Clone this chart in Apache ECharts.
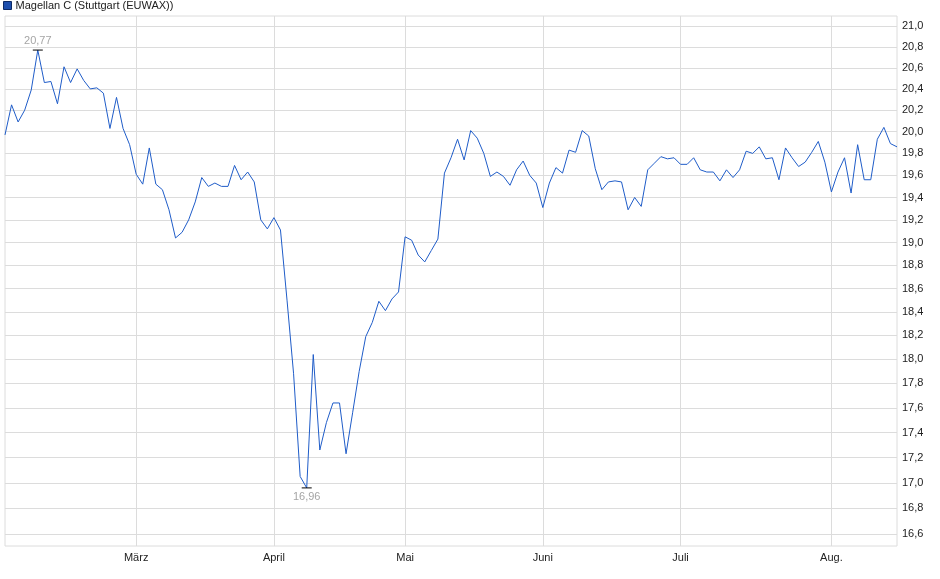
<!DOCTYPE html>
<html>
<head>
<meta charset="utf-8">
<script src="https://cdn.jsdelivr.net/npm/echarts@6/dist/echarts.min.js"></script>
<style>
  html, body { margin: 0; padding: 0; background: #fff; }
  #chart { width: 940px; height: 579px; }
</style>
</head>
<body>
<div id="chart"></div>
<script>
// Kursverlauf Magellan C, Handelstage 03.02.2025 - 15.08.2025
var seriesName = 'Magellan C (Stuttgart (EUWAX))';
var startDate = '2025-02-03';
var holidays = ['2025-04-18', '2025-04-21', '2025-05-01'];
var monthNames = ['Jan.', 'Feb.', 'März', 'April', 'Mai', 'Juni', 'Juli', 'Aug.', 'Sep.', 'Okt.', 'Nov.', 'Dez.'];
var yTicks = [16.6, 16.8, 17.0, 17.2, 17.4, 17.6, 17.8, 18.0, 18.2, 18.4, 18.6, 18.8,
    19.0, 19.2, 19.4, 19.6, 19.8, 20.0, 20.2, 20.4, 20.6, 20.8, 21.0];

// Februar
var pricesFeb = [19.97, 20.25, 20.09, 20.20, 20.39, 20.77, 20.46, 20.47, 20.26, 20.61,
    20.46, 20.59, 20.48, 20.40, 20.41, 20.36, 20.03, 20.32, 20.03, 19.88];
// März
var pricesMar = [19.61, 19.52, 19.85, 19.52, 19.47, 19.29, 19.04, 19.09, 19.20, 19.36,
    19.58, 19.50, 19.53, 19.50, 19.50, 19.69, 19.56, 19.63, 19.54, 19.20, 19.12];
// April
var pricesApr = [19.22, 19.11, 18.50, 17.88, 17.05, 16.96, 18.04, 17.26, 17.48, 17.64,
    17.64, 17.23, 17.56, 17.90, 18.19, 18.31, 18.49, 18.41, 18.51, 18.57];
// Mai
var pricesMay = [19.05, 19.02, 18.89, 18.83, 18.93, 19.03, 19.62, 19.76, 19.93, 19.74,
    20.01, 19.94, 19.80, 19.59, 19.63, 19.59, 19.51, 19.65, 19.73, 19.60, 19.53];
// Juni
var pricesJun = [19.31, 19.53, 19.67, 19.62, 19.83, 19.81, 20.01, 19.96, 19.66, 19.47,
    19.54, 19.55, 19.54, 19.29, 19.40, 19.32, 19.65, 19.71, 19.77, 19.75, 19.76];
// Juli
var pricesJul = [19.70, 19.70, 19.76, 19.65, 19.63, 19.63, 19.55, 19.65, 19.58, 19.65,
    19.82, 19.80, 19.86, 19.75, 19.76, 19.56, 19.85, 19.76, 19.68, 19.72, 19.81, 19.91, 19.72];
// August
var pricesAug = [19.45, 19.63, 19.76, 19.44, 19.88, 19.56, 19.56, 19.93, 20.04, 19.89, 19.86];

var prices = [].concat(pricesFeb, pricesMar, pricesApr, pricesMay, pricesJun, pricesJul, pricesAug);

// Handelstage erzeugen (Mo-Fr ohne Feiertage)
var dates = [];
var d = new Date(startDate + 'T12:00:00Z');
while (dates.length < prices.length) {
    var wd = d.getUTCDay();
    var s = d.toISOString().slice(0, 10);
    if (wd != 0 && wd != 6 && holidays.indexOf(s) < 0) {
        dates.push(s);
    }
    d.setUTCDate(d.getUTCDate() + 1);
}

function isMonthStart(i) {
    if (i == 0) return false;
    return dates[i].slice(5, 7) != dates[i - 1].slice(5, 7);
}

function fmt(v) {
    return Number(v).toFixed(1).replace('.', ',');
}

var myChart = echarts.init(document.getElementById('chart'));

var option = {
    animation: false,
    textStyle: { fontFamily: 'Liberation Sans, Arial, sans-serif' },
    legend: {
        left: 3,
        top: 0,
        padding: 0,
        itemWidth: 8,
        itemHeight: 8,
        icon: 'rect',
        textStyle: { fontSize: 11, color: '#222', padding: [1, 0, 0, -1] },
        data: [{ name: seriesName, itemStyle: { color: '#1d4fae', borderColor: '#0d2a66', borderWidth: 1 } }]
    },
    grid: {
        left: 5,
        right: 43,
        top: 16,
        bottom: 33,
        show: true,
        borderColor: '#dcdcdc',
        borderWidth: 1
    },
    xAxis: {
        type: 'category',
        data: dates,
        boundaryGap: false,
        axisLine: { show: false },
        axisTick: { show: false },
        axisLabel: {
            interval: function (i) { return isMonthStart(i); },
            formatter: function (v) { return monthNames[parseInt(v.slice(5, 7), 10) - 1]; },
            fontSize: 11,
            color: '#222',
            margin: 6
        },
        splitLine: {
            show: true,
            interval: function (i) { return isMonthStart(i); },
            lineStyle: { color: '#dcdcdc', width: 1 }
        }
    },
    yAxis: {
        type: 'log',
        logBase: 10,
        position: 'right',
        min: 16.51,
        max: 21.10,
        axisLine: { show: false },
        axisTick: { show: false, customValues: yTicks },
        axisLabel: {
            customValues: yTicks,
            formatter: fmt,
            fontSize: 11,
            color: '#222',
            margin: 5
        },
        splitLine: { show: true, lineStyle: { color: '#dcdcdc', width: 1 } }
    },
    series: [{
        name: seriesName,
        type: 'line',
        data: prices,
        symbol: 'none',
        lineStyle: { color: '#1f5cc8', width: 1 },
        itemStyle: { color: '#1d4fae' },
        markPoint: {
            symbol: 'rect',
            symbolSize: [10, 1],
            itemStyle: { color: '#000' },
            label: {
                fontSize: 11,
                color: '#a5a5a5',
                formatter: function (p) { return p.value.toFixed(2).replace('.', ','); }
            },
            data: [
                { type: 'max', label: { position: 'top', distance: 3 } },
                { type: 'min', label: { position: 'bottom', distance: 3 } }
            ]
        }
    }]
};

myChart.setOption(option);
</script>
</body>
</html>
